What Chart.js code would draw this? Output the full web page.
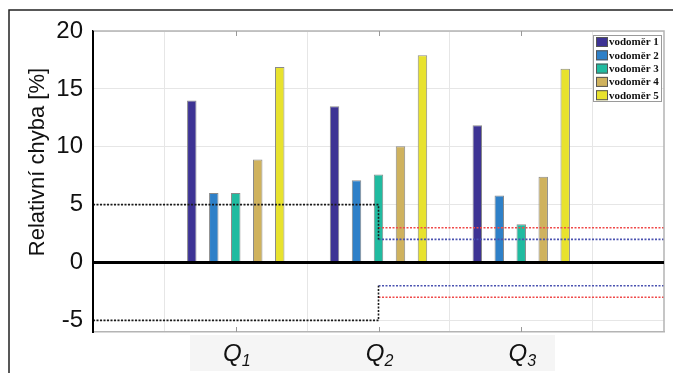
<!DOCTYPE html>
<html><head><meta charset="utf-8">
<script src="https://cdn.jsdelivr.net/npm/chart.js@4/dist/chart.umd.min.js"></script>
<style>html,body{margin:0;padding:0;background:#fff}#wrap{width:673px;height:373px}</style>
</head><body><div id="wrap"><canvas id="c" width="673" height="373"></canvas></div>
<script>
const categories = ['Q1', 'Q2', 'Q3'];
const catSub = ['1', '2', '3'];
const seriesNames = ['vodoměr 1', 'vodoměr 2', 'vodoměr 3', 'vodoměr 4', 'vodoměr 5'];
const vodomer1 = [14.0, 13.5, 11.85];
const vodomer2 = [6.0, 7.1, 5.8];
const vodomer3 = [6.0, 7.6, 3.3];
const vodomer4 = [8.9, 10.05, 7.4];
const vodomer5 = [16.9, 17.9, 16.75];
const yTicks = [-5, 0, 5, 10, 15, 20];
// limit lines (x in category units, 0..4)
const limitBlackUpper = [[0, 5], [2, 5], [2, 2]];
const limitBlackLower = [[0, -5], [2, -5], [2, -2]];
const limitRedUpper = [[2, 3], [4, 3]];
const limitRedLower = [[2, -3], [4, -3]];
const limitBlueUpper = [[2, 2], [4, 2]];
const limitBlueLower = [[2, -2], [4, -2]];

const colors = ['#3d3394', '#2e80c8', '#20bba0', '#cfb25e', '#e8e22e'];
const allSeries = [vodomer1, vodomer2, vodomer3, vodomer4, vodomer5];

const barSets = allSeries.map((s, i) => ({
  type: 'bar', label: seriesNames[i], order: 1,
  data: s.map((v, j) => ({x: j + 1, y: v})),
  backgroundColor: colors[i], borderColor: '#8a8a8a', borderWidth: 1,
  categoryPercentage: 0.77, barPercentage: 0.43
}));
function lineSet(pts, color) {
  return {type: 'line', label: '_lim', order: 0, data: pts.map(p => ({x: p[0], y: p[1]})),
    borderColor: color, borderWidth: 1.6, borderDash: [2, 1.5], pointRadius: 0, fill: false, tension: 0};
}
const lineSets = [
  lineSet(limitBlackUpper, '#1a1a1a'), lineSet(limitBlackLower, '#1a1a1a'),
  lineSet(limitRedUpper, '#ef4a4a'), lineSet(limitRedLower, '#ef4a4a'),
  lineSet(limitBlueUpper, '#4a52b0'), lineSet(limitBlueLower, '#4a52b0')
];

const deco = {
  id: 'deco',
  beforeDraw(chart) {
    const ctx = chart.ctx;
    ctx.save();
    ctx.fillStyle = '#f5f5f5';
    ctx.fillRect(190, 335, 365, 36);
    ctx.restore();
  },
  afterDatasetsDraw(chart) {
    const ctx = chart.ctx, a = chart.chartArea;
    const ys = chart.scales.y, xs = chart.scales.x;
    ctx.save();
    // plot frame top/right
    ctx.strokeStyle = '#b4b4b4'; ctx.lineWidth = 1.5;
    ctx.beginPath(); ctx.moveTo(a.left, a.top); ctx.lineTo(a.right, a.top); ctx.lineTo(a.right, a.bottom); ctx.stroke();
    // tick marks
    ctx.strokeStyle = '#999'; ctx.lineWidth = 1;
    [1, 2, 3].forEach(v => {
      const px = Math.round(xs.getPixelForValue(v)) + 0.5;
      ctx.beginPath(); ctx.moveTo(px, a.bottom); ctx.lineTo(px, a.bottom - 5);
      ctx.moveTo(px, a.top); ctx.lineTo(px, a.top + 5); ctx.stroke();
    });
    // zero line
    const y0 = ys.getPixelForValue(0);
    ctx.strokeStyle = '#000'; ctx.lineWidth = 3;
    ctx.beginPath(); ctx.moveTo(a.left, y0); ctx.lineTo(a.right, y0); ctx.stroke();
    // left axis
    ctx.lineWidth = 2;
    ctx.beginPath(); ctx.moveTo(a.left, a.top); ctx.lineTo(a.left, a.bottom); ctx.stroke();
    ctx.restore();
  },
  afterDraw(chart) {
    const ctx = chart.ctx, a = chart.chartArea;
    const xs = chart.scales.x;
    ctx.save();
    // outer frame
    ctx.strokeStyle = '#222'; ctx.lineWidth = 1.5;
    ctx.beginPath(); ctx.moveTo(9, 373); ctx.lineTo(9, 10); ctx.lineTo(673, 10); ctx.stroke();
    // x labels with subscript
    ctx.fillStyle = '#111'; ctx.textBaseline = 'alphabetic';
    categories.forEach((c, i) => {
      const px = xs.getPixelForValue(i + 1);
      ctx.font = 'italic 24px "Liberation Sans", Arial, sans-serif';
      const w1 = ctx.measureText('Q').width;
      ctx.font = 'italic 16px "Liberation Sans", Arial, sans-serif';
      const w2 = ctx.measureText(catSub[i]).width;
      const x0 = px - (w1 + w2) / 2 + 1;
      ctx.font = 'italic 24px "Liberation Sans", Arial, sans-serif';
      ctx.textAlign = 'left';
      ctx.fillText('Q', x0, 361);
      ctx.font = 'italic 16px "Liberation Sans", Arial, sans-serif';
      ctx.fillText(catSub[i], x0 + w1, 366);
    });
    // y title
    ctx.save();
    ctx.translate(38, 162); ctx.rotate(-Math.PI / 2);
    ctx.font = '22px "Liberation Sans", Arial, sans-serif';
    ctx.textAlign = 'center'; ctx.textBaseline = 'middle';
    ctx.fillText('Relativní chyba [%]', 0, 0);
    ctx.restore();
    // legend
    const lx = 593, ly = 35, lw = 68, lh = 66;
    ctx.fillStyle = '#fff'; ctx.fillRect(lx, ly, lw, lh);
    ctx.strokeStyle = '#9a9a9a'; ctx.lineWidth = 1;
    ctx.strokeRect(lx + 0.5, ly + 0.5, lw, lh);
    ctx.font = 'bold 11px "Liberation Serif", "Times New Roman", serif';
    ctx.textAlign = 'left'; ctx.textBaseline = 'middle';
    seriesNames.forEach((n, i) => {
      const cy = ly + 7 + i * 13.3;
      ctx.fillStyle = colors[i];
      ctx.fillRect(lx + 3, cy - 5, 12, 10);
      ctx.strokeStyle = '#555'; ctx.strokeRect(lx + 3.5, cy - 4.5, 11, 9);
      ctx.fillStyle = '#111';
      ctx.fillText(n, lx + 16, cy + 0.5);
    });
    ctx.restore();
  }
};

new Chart(document.getElementById('c'), {
  data: {datasets: [...lineSets, ...barSets]},
  options: {
    responsive: false, animation: false, devicePixelRatio: 1,
    layout: {padding: {left: 0, top: 31, right: 9, bottom: 0}},
    plugins: {legend: {display: false}, tooltip: {enabled: false}, title: {display: false}},
    scales: {
      x: {
        type: 'linear', min: 0, max: 4, offset: false,
        afterBuildTicks: s => { s.ticks = [1, 2, 3].map(v => ({value: v})); },
        afterFit: s => { s.height = 41; },
        ticks: {display: false},
        grid: {color: '#e6e6e6', lineWidth: 1, drawTicks: false},
        border: {display: true, color: '#b4b4b4', width: 1.5}
      },
      y: {
        type: 'linear', min: -6, max: 20,
        afterBuildTicks: s => { s.ticks = yTicks.map(v => ({value: v})); },
        afterFit: s => { s.width = 93; },
        ticks: {font: {family: '"Liberation Sans", Arial, sans-serif', size: 24}, color: '#111', padding: 10},
        grid: {color: '#e6e6e6', lineWidth: 1, drawTicks: false},
        border: {display: true, color: '#000', width: 2}
      }
    }
  },
  plugins: [deco]
});
</script></body></html>
